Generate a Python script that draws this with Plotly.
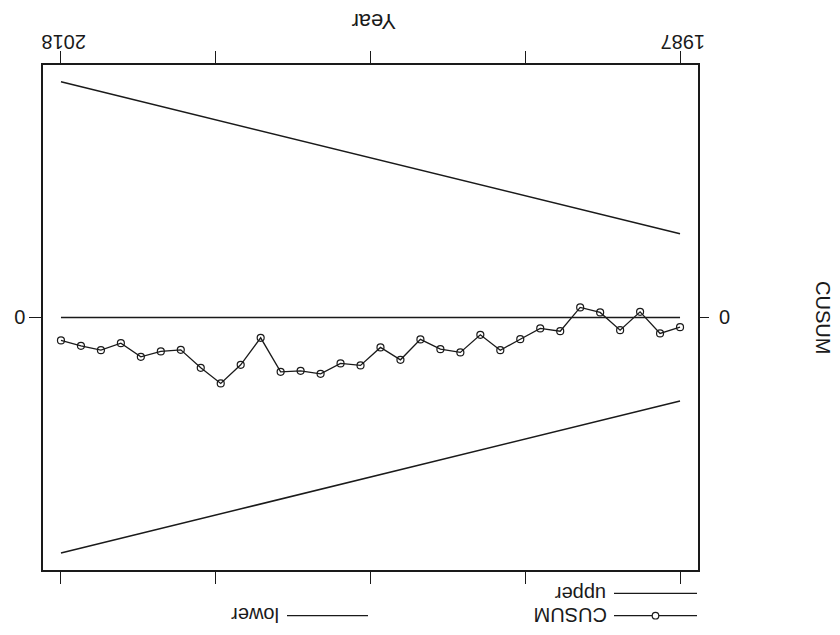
import plotly.graph_objects as go

# ---- data (chart is shown rotated 180 degrees) ----
years = list(range(1987, 2019))
cusum = [0.49, 0.80, -0.28, 0.64, -0.25, -0.50, 0.69, 0.55, 1.09, 1.64,
         0.87, 1.75, 1.59, 1.10, 2.12, 1.50, 2.40, 2.30, 2.82, 2.67,
         2.72, 1.02, 2.37, 3.30, 2.52, 1.62, 1.70, 1.97, 1.29, 1.64,
         1.42, 1.15]
bound_years = [1987, 2018]
upper = [4.18, 11.78]
lower = [-4.18, -11.78]
zero_line = [0, 0]

x_tickvals = [1987, 1994.75, 2002.5, 2010.25, 2018]
x_ticktext = ["1987", "", "", "", "2018"]
y_tickvals = [0]
y_ticktext = ["0"]

FONT = "Liberation Sans, Arial, Helvetica, sans-serif"
INK = "#1a1a1a"

fig = go.Figure()
fig.add_trace(go.Scatter(x=bound_years, y=upper, mode="lines", name="upper",
                         line=dict(color=INK, width=1.5)))
fig.add_trace(go.Scatter(x=bound_years, y=lower, mode="lines", name="lower",
                         line=dict(color=INK, width=1.5)))
fig.add_trace(go.Scatter(x=bound_years, y=zero_line, mode="lines", name="zero",
                         line=dict(color=INK, width=1.5), yaxis="y2"))
fig.add_trace(go.Scatter(x=years, y=cusum, mode="lines+markers", name="CUSUM",
                         line=dict(color=INK, width=1.3),
                         marker=dict(symbol="circle-open", size=7,
                                     color=INK, line=dict(width=1.2))))

# plot area geometry in pixels (for legend placement)
L, R, T, B = 43, 142, 65, 65
W, H = 840, 635
PW, PH = W - L - R, H - T - B


def px(xp):
    return (xp - L) / PW


def py(yp):
    return (H - B - yp) / PH


shapes = []
annotations = []

# manual legend (upside down)
legend_items = [
    ("CUSUM", 614, 697, 615.7, 570.5, True),
    ("upper", 614, 697, 593.3, 580.5, False),
    ("lower", 287, 368, 615.7, 255, False),
]
for name, xa, xb, yl, xt, marker in legend_items:
    shapes.append(dict(type="line", xref="paper", yref="paper",
                       x0=px(xa), x1=px(xb), y0=py(yl), y1=py(yl),
                       line=dict(color=INK, width=1.3)))
    if marker:
        shapes.append(dict(type="circle", xref="paper", yref="paper",
                           xsizemode="pixel", ysizemode="pixel",
                           xanchor=px(655.5), yanchor=py(yl),
                           x0=-3.3, x1=3.3, y0=-3.3, y1=3.3,
                           fillcolor="white", line=dict(color=INK, width=1.2)))
    annotations.append(dict(text=name, xref="paper", yref="paper",
                            x=px(xt), y=py(yl), xanchor="center", yanchor="middle",
                            textangle=180, showarrow=False,
                            font=dict(family=FONT, size=20, color=INK)))

# axis titles (rotated like the reference)
annotations.append(dict(text="Year", xref="paper", yref="paper",
                        x=px(374), y=py(21), xanchor="center", yanchor="middle",
                        textangle=180, showarrow=False,
                        font=dict(family=FONT, size=22, color=INK)))
annotations.append(dict(text="CUSUM", xref="paper", yref="paper",
                        x=px(823), y=py(317), xanchor="center", yanchor="middle",
                        textangle=90, showarrow=False,
                        font=dict(family=FONT, size=20, color=INK)))

axis_common = dict(showgrid=False, zeroline=False, ticks="outside",
                   tickcolor=INK, tickwidth=1.3, automargin=False,
                   tickfont=dict(family=FONT, size=20, color=INK))

fig.update_layout(
    width=W, height=H,
    margin=dict(l=L, r=R, t=T, b=B),
    paper_bgcolor="white", plot_bgcolor="white",
    showlegend=False,
    xaxis=dict(range=[2018.9, 1986.1], side="top",
               tickmode="array", tickvals=x_tickvals, ticktext=x_ticktext,
               tickangle=180, ticklen=12, ticklabelshift=-25,
               ticklabelstandoff=-12,
               showline=True, linecolor=INK, linewidth=1.5, mirror="ticks",
               **axis_common),
    yaxis=dict(range=[12.63, -12.62], tickmode="array",
               tickvals=y_tickvals, ticktext=y_ticktext, ticklen=12,
               showline=True, linecolor=INK, linewidth=1.5, mirror=True,
               **axis_common),
    yaxis2=dict(overlaying="y", side="right", matches="y",
                tickmode="array", tickvals=y_tickvals, ticktext=y_ticktext,
                ticklen=10, ticklabelstandoff=6, showline=False,
                **axis_common),
    shapes=shapes,
    annotations=annotations,
)

fig.write_html("out.html",
               config={"displayModeBar": False},
               post_script="document.body.style.margin='0';"
                           "document.body.style.padding='0';")
